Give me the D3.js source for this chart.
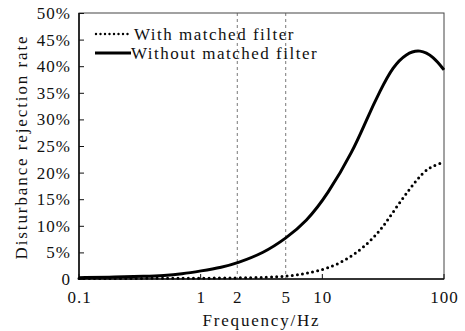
<!DOCTYPE html>
<html>
<head>
<meta charset="utf-8">
<script src="https://cdn.jsdelivr.net/npm/d3@7"></script>
<style>
  body { margin: 0; background: #fff; }
  svg text { font-family: 'Liberation Serif', 'Times New Roman', serif; }
</style>
</head>
<body>
<div id="root"></div>
<script>
// frequencies (Hz) and disturbance rejection rate (%)
var freqWithout = [0.1, 0.2, 0.35, 0.5, 0.7, 1, 1.5, 2, 3.3, 5, 7.4, 11, 18, 23, 30, 38, 49, 63.5, 82, 100];
var rateWithout = [0.25, 0.35, 0.5, 0.65, 0.95, 1.5, 2.2, 3.0, 4.9, 7.6, 10.8, 15.8, 24.2, 29.9, 35.5, 39.9, 42.4, 43.2, 41.8, 39.3];

var freqWith = [0.1, 0.5, 1, 2, 3.5, 5.4, 7.4, 10.9, 16.9, 24.6, 31.7, 40.8, 52.6, 67.6, 82, 100];
var rateWith = [0.1, 0.12, 0.15, 0.2, 0.3, 0.56, 1.07, 1.9, 3.9, 7.0, 9.8, 13.6, 17.0, 20.2, 21.3, 22];

var xTickValues = [0.1, 1, 2, 5, 10, 100];
var xTickMarks = [0.1, 1, 10, 100];
var yTickValues = [0, 5, 10, 15, 20, 25, 30, 35, 40, 45, 50];
var dashedFreqs = [2, 5];

var legendLabels = ['With matched filter', 'Without matched filter'];

var W = 465, H = 331;
var margin = { top: 13, right: 21, bottom: 52, left: 79 };
var w = W - margin.left - margin.right;
var h = H - margin.top - margin.bottom;

var svg = d3.select('#root')
  .append('svg')
    .attr('width', W)
    .attr('height', H);

var g = svg.append('g')
  .attr('transform', 'translate(' + margin.left + ',' + margin.top + ')');

var x = d3.scaleLog()
  .domain([0.1, 100])
  .range([0, w]);

var y = d3.scaleLinear()
  .domain([0, 50])
  .range([h, 0]);

// frame
g.append('rect')
  .attr('width', w)
  .attr('height', h)
  .attr('fill', 'none')
  .attr('stroke', '#444')
  .attr('stroke-width', 1);

// dashed reference lines at 2 Hz and 5 Hz
g.selectAll('.ref')
  .data(dashedFreqs)
  .enter()
  .append('line')
    .attr('x1', d => x(d))
    .attr('x2', d => x(d))
    .attr('y1', 0)
    .attr('y2', h)
    .attr('stroke', '#555')
    .attr('stroke-width', 0.8)
    .attr('stroke-dasharray', '3,3');

// y axis, ticks pointing inwards
var yAxis = d3.axisLeft(y)
  .tickValues(yTickValues)
  .tickSize(-5)
  .tickPadding(8)
  .tickFormat(d => d === 0 ? '0' : d + '%');

var yg = g.append('g').call(yAxis);
yg.select('.domain').remove();
yg.selectAll('line').attr('stroke', '#111');
yg.selectAll('text')
  .attr('font-size', 17)
  .attr('letter-spacing', 1)
  .attr('fill', '#111');

// x axis
var xAxis = d3.axisBottom(x)
  .tickValues(xTickValues)
  .tickSize(0)
  .tickPadding(12)
  .tickFormat(d => d3.format('~g')(d));

var xg = g.append('g')
  .attr('transform', 'translate(0,' + h + ')')
  .call(xAxis);
xg.select('.domain').remove();
xg.selectAll('text')
  .attr('font-size', 17)
  .attr('letter-spacing', 1)
  .attr('fill', '#111');

g.selectAll('.xtick')
  .data(xTickMarks)
  .enter()
  .append('line')
    .attr('x1', d => x(d))
    .attr('x2', d => x(d))
    .attr('y1', h)
    .attr('y2', h - 5)
    .attr('stroke', '#111');

// left and bottom axis lines
g.append('line')
  .attr('x1', 0).attr('x2', 0)
  .attr('y1', 0).attr('y2', h)
  .attr('stroke', '#111')
  .attr('stroke-width', 1.6);
g.append('line')
  .attr('x1', 0).attr('x2', w)
  .attr('y1', h).attr('y2', h)
  .attr('stroke', '#111')
  .attr('stroke-width', 1.6);

var line = d3.line()
  .x(d => x(d[0]))
  .y(d => y(d[1]))
  .curve(d3.curveBasis);

g.append('path')
  .datum(d3.zip(freqWithout, rateWithout))
  .attr('d', line)
  .attr('fill', 'none')
  .attr('stroke', '#000')
  .attr('stroke-width', 3);

g.append('path')
  .datum(d3.zip(freqWith, rateWith))
  .attr('d', line)
  .attr('fill', 'none')
  .attr('stroke', '#000')
  .attr('stroke-width', 3)
  .attr('stroke-linecap', 'round')
  .attr('stroke-dasharray', '0,5.2');

// legend
var legend = svg.append('g')
  .attr('transform', 'translate(95,34)');

legend.append('line')
  .attr('x1', 1).attr('x2', 33)
  .attr('y1', 0).attr('y2', 0)
  .attr('stroke', '#000')
  .attr('stroke-width', 2.4)
  .attr('stroke-linecap', 'round')
  .attr('stroke-dasharray', '0,4.5');

legend.append('line')
  .attr('x1', 0).attr('x2', 36)
  .attr('y1', 19).attr('y2', 19)
  .attr('stroke', '#000')
  .attr('stroke-width', 3);

legend.selectAll('.lab')
  .data(legendLabels)
  .enter()
  .append('text')
    .attr('x', (d, i) => i === 0 ? 39 : 36)
    .attr('y', (d, i) => i * 19)
    .attr('dy', '0.35em')
    .attr('font-size', 17)
    .attr('letter-spacing', 1.5)
    .attr('fill', '#111')
    .text(d => d);

// axis titles
svg.append('text')
  .attr('x', margin.left + w / 2)
  .attr('y', 326)
  .attr('text-anchor', 'middle')
  .attr('font-size', 17)
  .attr('letter-spacing', 1.8)
  .attr('fill', '#111')
  .text('Frequency/Hz');

svg.append('text')
  .attr('transform', 'translate(27,147) rotate(-90)')
  .attr('text-anchor', 'middle')
  .attr('font-size', 17)
  .attr('letter-spacing', 1.9)
  .attr('fill', '#111')
  .text('Disturbance rejection rate');
</script>
</body>
</html>
